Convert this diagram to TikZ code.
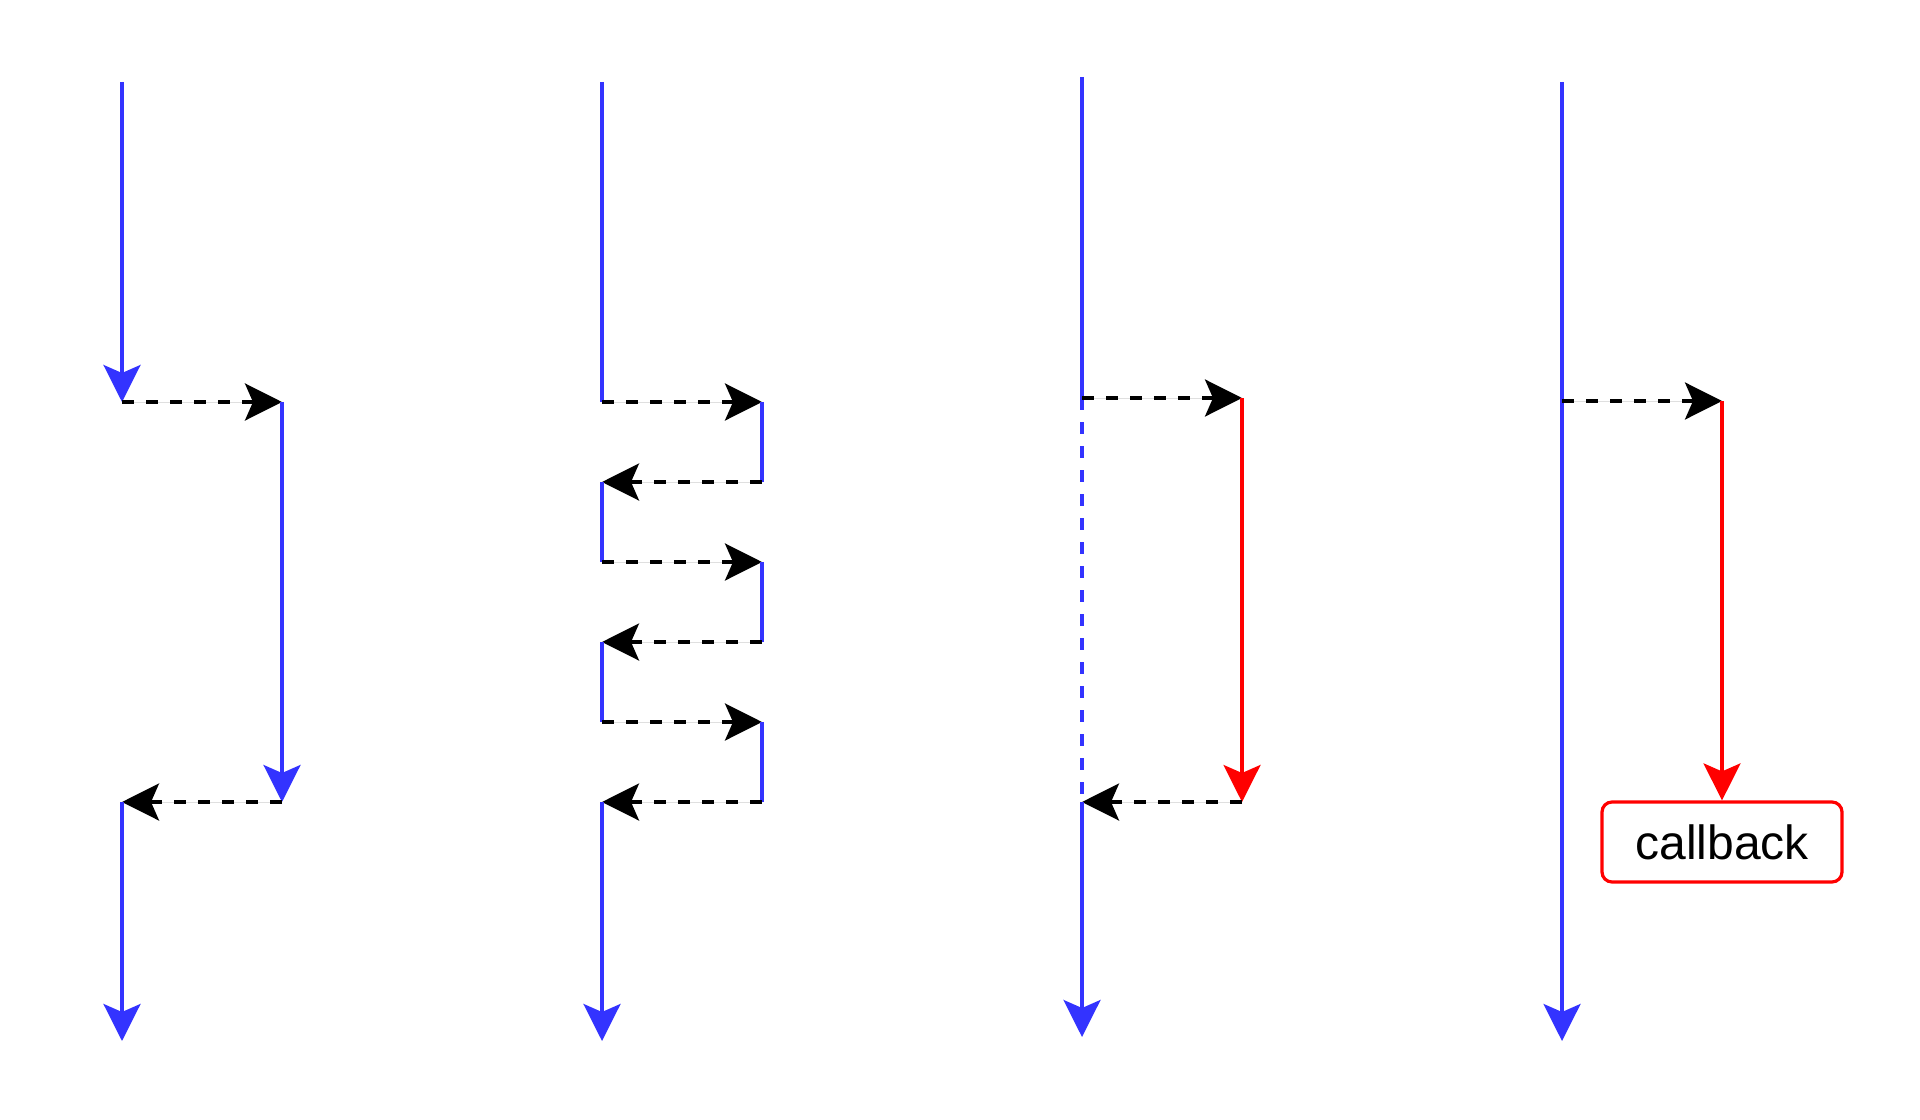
\documentclass[tikz,border=0pt]{standalone}
\usepackage{fontspec}
\setmainfont{Liberation Sans}
\usetikzlibrary{arrows.meta}
\definecolor{flowblue}{HTML}{3333FF}
\definecolor{flowred}{HTML}{FF0000}
\begin{document}
\begin{tikzpicture}[x=0.75pt,y=-0.75pt,
  tipshape/.style={-{Stealth[length=27.75pt,width=27.75pt,inset=6pt]}},
  run/.style={draw=flowblue,line width=2.6pt},
  wait/.style={draw=flowblue,line width=2.6pt,dash pattern=on 9pt off 9pt},
  task/.style={draw=flowred,line width=2.6pt},
  msg/.style={draw=black,line width=2.6pt,dash pattern=on 9pt off 9pt},
  cbbox/.style={draw=flowred,line width=2.4pt,rounded corners=7.5pt,
    minimum width=180pt,minimum height=60pt,inner sep=0pt,
    font=\fontsize{36pt}{40pt}\selectfont}]
\useasboundingbox (0,0) rectangle (1920,1120);

% ---- column 1: blocking call ----
\coordinate (a1top) at (122,82);
\coordinate (a1) at (122,402);
\coordinate (b1) at (282,402);
\coordinate (b1e) at (282,802);
\coordinate (a1r) at (122,802);
\coordinate (a1end) at (122,1041);
\draw[run,tipshape,fill=flowblue] (a1top) -- (a1);
\draw[msg,tipshape,fill=black] (a1) -- (b1);
\draw[run,tipshape,fill=flowblue] (b1) -- (b1e);
\draw[msg,tipshape,fill=black] (b1e) -- (a1r);
\draw[run,tipshape,fill=flowblue] (a1r) -- (a1end);

% ---- column 2: ping-pong ----
\coordinate (a2top) at (602,82);
\foreach \i/\y in {1/402,2/482,3/562,4/642,5/722,6/802}{
  \coordinate (l\i) at (602,\y);
  \coordinate (r\i) at (762,\y);
}
\coordinate (a2end) at (602,1041);
\draw[run] (a2top) -- (l1);
\draw[msg,tipshape,fill=black] (l1) -- (r1);
\draw[run] (r1) -- (r2);
\draw[msg,tipshape,fill=black] (r2) -- (l2);
\draw[run] (l2) -- (l3);
\draw[msg,tipshape,fill=black] (l3) -- (r3);
\draw[run] (r3) -- (r4);
\draw[msg,tipshape,fill=black] (r4) -- (l4);
\draw[run] (l4) -- (l5);
\draw[msg,tipshape,fill=black] (l5) -- (r5);
\draw[run] (r5) -- (r6);
\draw[msg,tipshape,fill=black] (r6) -- (l6);
\draw[run,tipshape,fill=flowblue] (l6) -- (a2end);

% ---- column 3: waiting while another task runs ----
\coordinate (a3top) at (1082,77);
\coordinate (a3) at (1082,398);
\coordinate (b3) at (1242,398);
\coordinate (b3e) at (1242,802);
\coordinate (a3r) at (1082,802);
\coordinate (a3end) at (1082,1037);
\draw[run] (a3top) -- (a3);
\draw[wait] (a3) -- (a3r);
\draw[msg,tipshape,fill=black] (a3) -- (b3);
\draw[task,tipshape,fill=flowred] (b3) -- (b3e);
\draw[msg,tipshape,fill=black] (b3e) -- (a3r);
\draw[run,tipshape,fill=flowblue] (a3r) -- (a3end);

% ---- column 4: callback ----
\coordinate (a4top) at (1562,82);
\coordinate (a4) at (1562,401);
\coordinate (b4) at (1722,401);
\coordinate (a4end) at (1562,1041);
\node[cbbox] (cb) at (1722,842) {callback};
\draw[run,tipshape,fill=flowblue] (a4top) -- (a4end);
\draw[msg,tipshape,fill=black] (a4) -- (b4);
\draw[task,tipshape,fill=flowred] (b4) -- (cb.north);
\end{tikzpicture}
\end{document}
